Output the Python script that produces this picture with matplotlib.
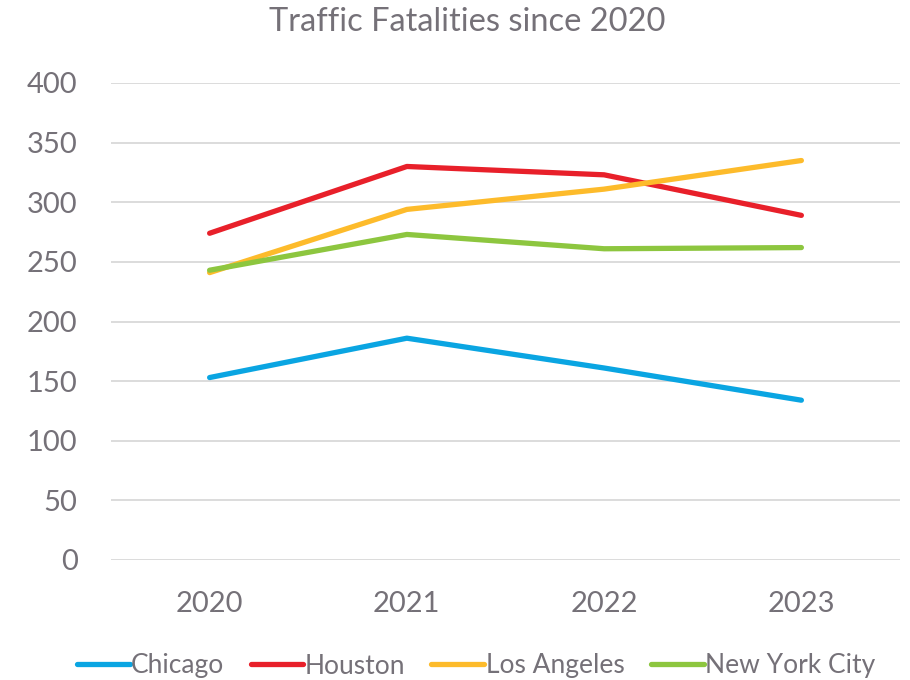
import matplotlib
matplotlib.use("Agg")
import matplotlib.pyplot as plt

years = ["2020", "2021", "2022", "2023"]
chicago = [153, 186, 161, 134]
houston = [274, 330, 323, 289]
los_angeles = [241, 294, 311, 335]
new_york = [243, 273, 261, 262]
series_names = ["Chicago", "Houston", "Los Angeles", "New York City"]
colors = ["#0AA5E2", "#E8202A", "#FDBB2B", "#8DC63F"]
yticks = [0, 50, 100, 150, 200, 250, 300, 350, 400]

plt.rcParams['font.family'] = ['Lato', 'DejaVu Sans']
text_color = "#757178"

fig = plt.figure(figsize=(9.1, 6.8), dpi=100)
ax = fig.add_axes([111/910, 120/680, (900-111)/910, (597-120)/680])

x = list(range(len(years)))
for vals, name, c in zip([chicago, houston, los_angeles, new_york], series_names, colors):
    ax.plot(x, vals, color=c, lw=3.8, label=name, solid_capstyle='round', solid_joinstyle='round')

ax.set_xlim(-0.5, 3.5)
ax.set_ylim(0, 400)
ax.set_yticks(yticks)
ax.set_xticks(x)
ax.set_xticklabels(years)
ax.grid(axis='y', color='#D9D9D9', lw=1.3)
ax.set_axisbelow(True)
for s in ax.spines.values():
    s.set_visible(False)
ax.tick_params(axis='both', length=0, labelsize=21, colors=text_color)
ax.tick_params(axis='y', pad=24)
ax.tick_params(axis='x', pad=22)

fig.text(0.514, 1 - 22/680, "Traffic Fatalities since 2020", ha='center', va='center',
         fontsize=23.5, color=text_color)

leg = fig.legend(loc='center', bbox_to_anchor=(0.523, 1 - 666/680), ncol=4, frameon=False,
                 fontsize=19, handlelength=2.0, handletextpad=0.05, columnspacing=1.0,
                 labelcolor=text_color)

fig.savefig("out.png", dpi=100)
